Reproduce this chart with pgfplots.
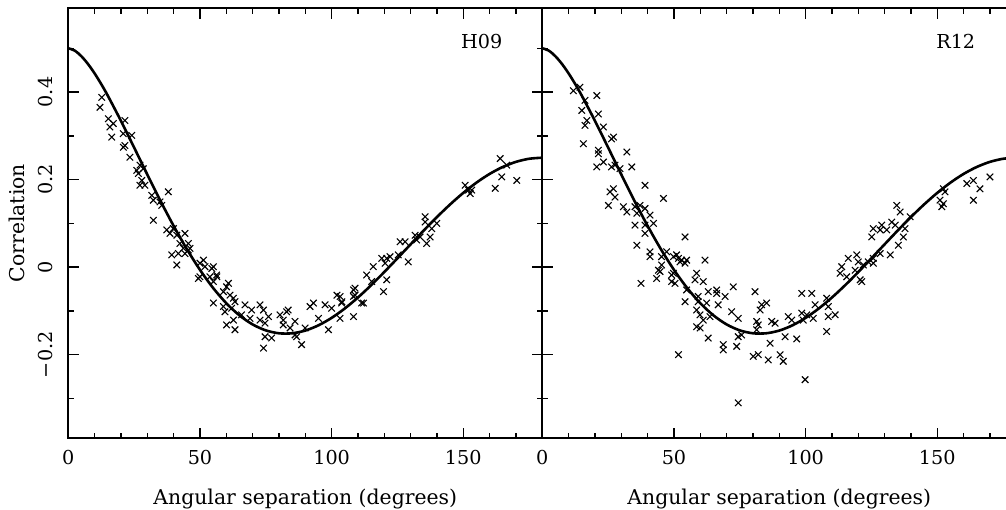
\documentclass[border=0pt]{standalone}
\usepackage{fontspec}
\setmainfont{DejaVu Serif}
\usepackage{pgfplots}
\pgfplotsset{compat=1.18}

% Hellings-Downs curve at 5 degree steps
\pgfplotstableread{
theta corr
0     0.5000
2.5   0.4944
5     0.4816
7.5   0.4639
10    0.4425
12.5  0.4182
15    0.3917
20    0.3341
25    0.2732
30    0.2116
35    0.1514
40    0.0942
45    0.0414
50   -0.0062
55   -0.0476
60   -0.0824
65   -0.1102
70   -0.1309
75   -0.1445
80   -0.1511
85   -0.1511
90   -0.1449
95   -0.1329
100  -0.1159
105  -0.0944
110  -0.0693
115  -0.0413
120  -0.0111
125   0.0203
130   0.0522
135   0.0839
140   0.1145
145   0.1433
150   0.1697
155   0.1931
160   0.2130
165   0.2289
170   0.2405
175   0.2476
180   0.2500
}\hdcurve

\pgfplotstableread{
theta corr
12.7 0.388
12.0 0.365
15.2 0.339
17.1 0.328
15.8 0.320
16.5 0.297
21.5 0.335
20.9 0.305
24.1 0.301
21.5 0.278
20.9 0.274
23.4 0.251
27.2 0.233
26.0 0.221
26.6 0.214
28.5 0.225
27.9 0.198
27.2 0.187
29.1 0.187
31.7 0.164
38.0 0.172
32.3 0.153
34.8 0.149
35.5 0.141
32.3 0.107
37.4 0.085
39.9 0.088
38.6 0.077
41.2 0.073
44.3 0.077
42.4 0.054
45.6 0.054
46.2 0.043
39.3 0.028
41.8 0.031
41.2 0.005
44.3 0.031
51.3 0.016
51.9 0.001
54.5 -0.003
50.0 -0.022
56.4 -0.022
43.7 0.043
45.6 0.039
50.0 0.009
55.1 0.001
49.4 -0.026
53.8 -0.022
55.1 -0.033
56.3 -0.018
60.8 -0.037
60.1 -0.045
58.9 -0.056
61.4 -0.064
62.7 -0.071
63.3 -0.079
55.1 -0.082
58.9 -0.090
59.5 -0.102
62.0 -0.094
67.1 -0.086
69.6 -0.098
72.8 -0.086
74.1 -0.098
76.0 -0.113
69.0 -0.117
65.8 -0.109
62.7 -0.121
60.1 -0.132
63.3 -0.143
72.8 -0.121
74.7 -0.128
74.7 -0.159
77.2 -0.162
80.4 -0.109
81.6 -0.121
82.9 -0.102
81.6 -0.132
83.5 -0.098
86.1 -0.124
84.2 -0.139
86.1 -0.155
86.7 -0.159
88.6 -0.177
74.1 -0.185
89.9 -0.139
91.8 -0.090
93.1 -0.082
95.0 -0.117
97.5 -0.086
98.8 -0.143
100.0 -0.094
102.0 -0.064
103.2 -0.117
103.9 -0.079
108.3 -0.052
108.9 -0.064
108.3 -0.113
111.4 -0.082
113.3 -0.018
115.8 0.001
115.2 -0.033
103.2 -0.067
103.8 -0.082
108.9 -0.048
108.3 -0.067
112.1 -0.082
119.7 -0.056
120.9 -0.029
119.0 0.020
120.9 0.020
122.2 0.024
120.3 0.009
125.3 0.028
126.0 0.058
127.9 0.058
129.1 0.012
131.7 0.073
132.3 0.062
133.6 0.069
136.1 0.054
137.4 0.069
135.5 0.115
135.5 0.103
138.0 0.088
139.9 0.100
150.7 0.187
152.0 0.176
152.6 0.168
153.2 0.176
162.1 0.180
164.0 0.248
164.6 0.206
166.5 0.233
170.3 0.198
}\hzero

\pgfplotstableread{
theta corr
11.8 0.403
14.3 0.411
20.7 0.392
16.2 0.381
15.0 0.358
21.3 0.350
16.9 0.335
16.2 0.324
23.2 0.320
27.0 0.297
26.3 0.293
15.6 0.282
32.1 0.263
21.3 0.267
21.3 0.259
23.2 0.240
20.7 0.229
26.3 0.229
27.6 0.233
29.5 0.225
34.0 0.229
39.0 0.187
27.0 0.179
25.7 0.172
27.6 0.160
46.0 0.157
25.1 0.141
30.8 0.138
32.1 0.126
35.2 0.138
37.1 0.141
39.0 0.134
35.9 0.123
40.9 0.119
35.2 0.096
39.0 0.096
42.2 0.100
39.0 0.077
35.9 0.050
54.2 0.069
40.9 0.035
40.9 0.024
45.3 0.024
47.2 0.035
49.8 0.024
51.7 0.020
52.9 0.016
54.8 0.016
61.8 0.016
44.1 -0.007
43.4 -0.026
49.8 -0.014
49.1 -0.033
50.4 -0.037
37.5 -0.037
58.6 -0.014
58.0 -0.029
61.1 -0.033
54.8 -0.052
59.2 -0.067
63.0 -0.056
66.2 -0.052
69.4 -0.067
72.5 -0.045
51.0 0.028
54.2 0.009
52.3 0.012
45.3 0.005
44.7 -0.010
49.1 -0.018
54.2 -0.079
59.2 -0.079
66.2 -0.060
66.8 -0.086
58.6 -0.098
62.4 -0.082
59.9 -0.109
63.7 -0.113
61.1 -0.121
58.6 -0.136
59.9 -0.139
71.9 -0.102
74.4 -0.117
63.0 -0.162
68.7 -0.177
68.7 -0.189
73.8 -0.181
74.4 -0.159
75.7 -0.155
80.8 -0.056
83.3 -0.086
85.2 -0.082
82.7 -0.098
81.4 -0.124
82.0 -0.132
81.4 -0.143
87.1 -0.124
88.4 -0.128
86.5 -0.174
80.1 -0.204
82.0 -0.200
85.8 -0.212
90.3 -0.200
91.5 -0.215
92.2 -0.159
96.6 -0.164
93.4 -0.113
94.7 -0.121
98.5 -0.060
102.3 -0.060
103.6 -0.086
98.5 -0.105
100.4 -0.109
102.9 -0.117
99.1 -0.121
108.0 -0.071
108.6 -0.090
108.6 -0.113
111.2 -0.109
108.0 -0.147
113.1 -0.014
51.7 -0.200
99.8 -0.257
74.4 -0.310
113.7 0.001
115.6 -0.022
116.2 0.020
119.4 0.028
120.0 0.012
118.8 -0.007
120.7 -0.029
121.3 -0.033
121.9 0.005
123.8 0.012
125.7 0.009
125.1 0.069
125.7 0.088
128.9 0.096
128.3 0.085
130.8 0.085
132.7 0.103
134.0 0.096
132.1 0.028
128.3 0.031
125.7 0.020
135.2 0.050
137.1 0.069
137.7 0.088
139.7 0.115
134.6 0.141
135.9 0.126
151.0 0.153
152.3 0.145
151.7 0.138
152.9 0.172
152.3 0.179
161.2 0.191
163.7 0.198
166.2 0.179
170.0 0.206
163.7 0.153
}\rtwelve

\pgfplotsset{
  panel/.style={
    scale only axis, width=237pt, height=215.15pt,
    xmin=0, xmax=180, ymin=-0.391, ymax=0.592,
    xtick={0,50,100,150}, xticklabels={0,50,100,150},
    minor xtick={10,20,...,170},
    ytick={-0.2,0,0.2,0.4},
    minor ytick={-0.3,-0.1,0.1,0.3,0.5},
    tick align=inside,
    major tick length=5.3pt, minor tick length=2.8pt,
    axis line style={line width=1pt},
    tick style={black, line width=0.7pt},
    tick label style={font=\fontsize{9.6}{11}\selectfont},
    xticklabel style={anchor=north, inner sep=0pt},
    xticklabel shift=5.6pt,
    yticklabel style={rotate=90, anchor=south, inner sep=0pt},
    yticklabel shift=7.4pt,
  },
  pts/.style={only marks, mark=x, mark size=2.3pt, black,
              mark options={line width=0.55pt}},
  hd/.style={no marks, smooth, black, line width=1.3pt},
}

\begin{document}
\begin{tikzpicture}
\begin{axis}[panel, name=left, at={(0,0)}, anchor=south west,
  yticklabels={−0.2,0,0.2,0.4}]
\addplot[pts] table[x=theta, y=corr] {\hzero};
\addplot[hd] table[x=theta, y=corr] {\hdcurve};
\node[anchor=base, font=\fontsize{9.6}{11}\selectfont] at (axis cs:157,0.499) {H09};
\end{axis}
\begin{axis}[panel, name=right, at={(237pt,0)}, anchor=south west,
  yticklabels={}]
\addplot[pts] table[x=theta, y=corr] {\rtwelve};
\addplot[hd] table[x=theta, y=corr] {\hdcurve};
\node[anchor=base, font=\fontsize{9.6}{11}\selectfont] at (axis cs:157,0.499) {R12};
\end{axis}
\node[anchor=base, font=\fontsize{10.2}{12}\selectfont] at ([yshift=-32.95pt]left.south) {Angular separation (degrees)};
\node[anchor=base, font=\fontsize{10.2}{12}\selectfont] at ([yshift=-32.95pt]right.south) {Angular separation (degrees)};
\node[rotate=90, anchor=base, font=\fontsize{10.2}{12}\selectfont] at ([xshift=-21.65pt]left.west) {Correlation};
\pgfresetboundingbox
\useasboundingbox (-34.15pt,-35.35pt) rectangle (468.85pt,219.15pt);
\end{tikzpicture}
\end{document}
